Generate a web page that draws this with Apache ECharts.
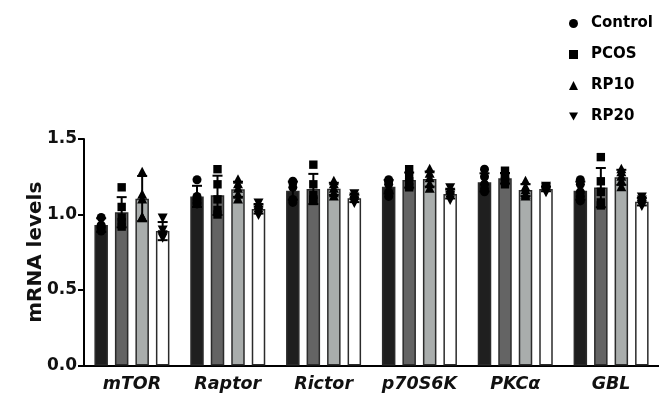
<!DOCTYPE html>
<html>
<head>
<meta charset="utf-8">
<script src="https://cdn.jsdelivr.net/npm/echarts@6/dist/echarts.min.js"></script>
<style>html,body{margin:0;padding:0;background:#fff}#c{width:659px;height:394px}</style>
</head>
<body>
<div id="c"></div>
<script>
const categories = ['mTOR', 'Raptor', 'Rictor', 'p70S6K', 'PKCα', 'GBL'];
const groups = ['Control', 'PCOS', 'RP10', 'RP20'];
const yTicks = [0, 0.5, 1.0, 1.5];

const controlMean = [0.93, 1.12, 1.158, 1.184, 1.213, 1.158];
const pcosMean    = [1.015, 1.127, 1.169, 1.228, 1.24, 1.178];
const rp10Mean    = [1.105, 1.167, 1.17, 1.235, 1.162, 1.246];
const rp20Mean    = [0.89, 1.036, 1.107, 1.136, 1.169, 1.085];

const controlSd = [0.045, 0.07, 0.06, 0.045, 0.06, 0.06];
const pcosSd    = [0.10, 0.13, 0.10, 0.05, 0.035, 0.13];
const rp10Sd    = [0.15, 0.05, 0.04, 0.05, 0.04, 0.05];
const rp20Sd    = [0.06, 0.03, 0.025, 0.03, 0.015, 0.025];

const controlPts = [
  [0.98, 0.93, 0.91, 0.89, 0.92],
  [1.23, 1.12, 1.10, 1.08, 1.07],
  [1.22, 1.21, 1.18, 1.10, 1.08],
  [1.23, 1.22, 1.20, 1.15, 1.12],
  [1.30, 1.25, 1.20, 1.17, 1.15],
  [1.23, 1.20, 1.15, 1.12, 1.09]
];
const pcosPts = [
  [1.18, 1.05, 0.98, 0.95, 0.92],
  [1.30, 1.20, 1.10, 1.03, 1.00],
  [1.33, 1.20, 1.13, 1.10, 1.09],
  [1.30, 1.25, 1.22, 1.19, 1.18],
  [1.29, 1.25, 1.24, 1.22, 1.20],
  [1.38, 1.22, 1.15, 1.08, 1.06]
];
const rp10Pts = [
  [1.28, 1.13, 1.10, 0.98, 0.98],
  [1.23, 1.20, 1.17, 1.13, 1.10],
  [1.22, 1.20, 1.17, 1.14, 1.12],
  [1.30, 1.27, 1.24, 1.20, 1.17],
  [1.22, 1.18, 1.16, 1.13, 1.12],
  [1.30, 1.28, 1.25, 1.22, 1.18]
];
const rp20Pts = [
  [0.98, 0.90, 0.86, 0.85, 0.87],
  [1.08, 1.05, 1.03, 1.02, 1.00],
  [1.14, 1.12, 1.10, 1.09, 1.08],
  [1.18, 1.15, 1.13, 1.12, 1.10],
  [1.19, 1.18, 1.17, 1.16, 1.15],
  [1.12, 1.10, 1.08, 1.07, 1.06]
];

const means = [controlMean, pcosMean, rp10Mean, rp20Mean];
const sds = [controlSd, pcosSd, rp10Sd, rp20Sd];
const pts = [controlPts, pcosPts, rp10Pts, rp20Pts];
const colors = ['#1f1f1f', '#646464', '#a9adac', '#ffffff'];

const BAR_W = 13.5, BAR_GAP = 7;
const FONT = '"DejaVu Sans", sans-serif';

function offsetOf(j) { return (j - 1.5) * (BAR_W + BAR_GAP); }

function shapeFor(j, cx, cy) {
  const s = { fill: '#000' };
  if (j === 0) return { type: 'circle', shape: { cx: cx, cy: cy, r: 4.5 }, style: s };
  if (j === 1) return { type: 'rect', shape: { x: cx - 4.2, y: cy - 4.2, width: 8.4, height: 8.4 }, style: s };
  if (j === 2) return { type: 'polygon', shape: { points: [[cx, cy - 5.5], [cx + 5, cy + 4], [cx - 5, cy + 4]] }, style: s };
  return { type: 'polygon', shape: { points: [[cx, cy + 5.5], [cx + 5, cy - 4], [cx - 5, cy - 4]] }, style: s };
}

const series = [];
groups.forEach((g, j) => {
  series.push({
    name: g, type: 'bar', data: means[j], barWidth: BAR_W, barGap: (BAR_GAP / BAR_W * 100) + '%',
    itemStyle: { color: colors[j], borderColor: '#2b2b2b', borderWidth: 1.5 },
    z: 2
  });
});
groups.forEach((g, j) => {
  const ptData = [];
  pts[j].forEach((arr, i) => arr.forEach(v => ptData.push([i, v])));
  series.push({
    name: g + '_pts', type: 'custom', data: ptData, z: 3,
    renderItem: function (params, api) {
      const p = api.coord([api.value(0), api.value(1)]);
      return shapeFor(j, p[0] + offsetOf(j), p[1]);
    }
  });
  series.push({
    name: g + '_err', type: 'custom', z: 4,
    data: means[j].map((m, i) => [i, m, sds[j][i]]),
    renderItem: function (params, api) {
      const i = api.value(0), m = api.value(1), sd = api.value(2);
      const top = api.coord([i, m + sd]);
      const bot = api.coord([i, m - sd]);
      const x = top[0] + offsetOf(j);
      const cap = 5;
      const st = { stroke: '#000', lineWidth: 2 };
      return {
        type: 'group', children: [
          { type: 'line', shape: { x1: x, y1: top[1], x2: x, y2: bot[1] }, style: st },
          { type: 'line', shape: { x1: x - cap, y1: top[1], x2: x + cap, y2: top[1] }, style: st },
          { type: 'line', shape: { x1: x - cap, y1: bot[1], x2: x + cap, y2: bot[1] }, style: st }
        ]
      };
    }
  });
});

const icons = ['circle', 'rect', 'triangle', 'path://M0,0L10,0L5,9Z'];

const chart = echarts.init(document.getElementById('c'), null, { renderer: 'canvas' });
chart.setOption({
  animation: false,
  backgroundColor: '#fff',
  grid: { left: 84, top: 139, width: 581, height: 226.5, containLabel: false },
  legend: {
    orient: 'vertical', left: 564, top: 11, itemGap: 16,
    itemWidth: 9, itemHeight: 9,
    selectedMode: false,
    textStyle: { fontFamily: FONT, fontWeight: 'bold', fontSize: 15, color: '#000', padding: [0, 0, 0, 8] },
    data: groups.map((g, j) => ({ name: g, icon: icons[j], itemStyle: { color: '#000', borderWidth: 0 } }))
  },
  xAxis: {
    type: 'category', data: categories,
    axisLine: { lineStyle: { color: '#000', width: 2 } },
    axisTick: { alignWithLabel: true, length: 6, lineStyle: { color: '#000', width: 2 } },
    axisLabel: { interval: 0, fontFamily: FONT, fontWeight: 'bold', fontStyle: 'italic', fontSize: 17.5, color: '#111', margin: 10 },
    splitLine: { show: false }
  },
  yAxis: {
    type: 'value', min: 0, max: 1.5, interval: 0.5,
    name: 'mRNA levels', nameLocation: 'middle', nameGap: 38, nameRotate: 90, nameMoveOverlap: false,
    nameTextStyle: { fontFamily: FONT, fontWeight: 'bold', fontSize: 20, color: '#111' },
    axisLine: { show: true, lineStyle: { color: '#000', width: 2 } },
    axisTick: { show: true, length: 6, lineStyle: { color: '#000', width: 2 } },
    axisLabel: { fontFamily: FONT, fontWeight: 'bold', fontSize: 17, color: '#111', margin: 7,
      formatter: v => (yTicks.indexOf(v) >= 0 ? v.toFixed(1) : '') },
    splitLine: { show: false }
  },
  series: series
});
</script>
</body>
</html>
